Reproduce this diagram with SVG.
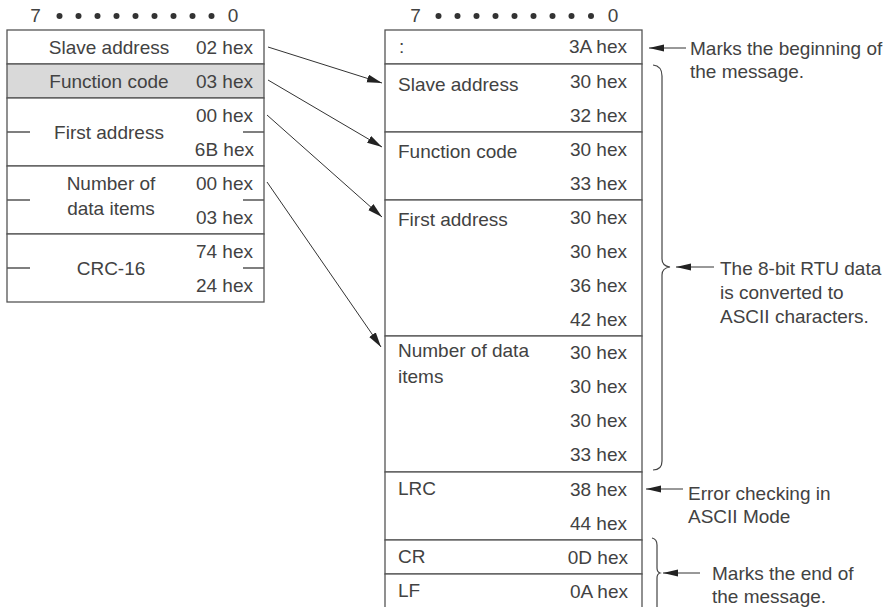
<svg xmlns="http://www.w3.org/2000/svg" width="888" height="607" viewBox="0 0 888 607">
<defs>
<style>
text{font-family:"Liberation Sans",Arial,sans-serif;font-size:19px;fill:#424242}
.e{text-anchor:end}
.m{text-anchor:middle}
.box{fill:#fff;stroke:#555;stroke-width:1.3}
.gray{fill:#d9d9d9;stroke:#555;stroke-width:1.3}
.ln{stroke:#555;stroke-width:1.3;fill:none}
.con{stroke:#333;stroke-width:1;fill:none}
.dot{fill:#333}
.br{stroke:#444;stroke-width:1.2;fill:none}
</style>
<marker id="ah" markerUnits="userSpaceOnUse" markerWidth="16" markerHeight="10" refX="15" refY="4" orient="auto">
<path d="M0,0 L15,4 L0,8 Z" fill="#222"/>
</marker>
<marker id="ah2" markerUnits="userSpaceOnUse" markerWidth="16" markerHeight="8" refX="15" refY="3.5" orient="auto">
<path d="M0,0 L15,3.5 L0,7 Z" fill="#222"/>
</marker>
</defs>
<rect width="888" height="607" fill="#fff"/>

<g id="header-left">
<text class="m" x="35.5" y="22">7</text>
<circle class="dot" cx="59.5" cy="16" r="3"/><circle class="dot" cx="78.5" cy="16" r="3"/><circle class="dot" cx="97.5" cy="16" r="3"/><circle class="dot" cx="116.5" cy="16" r="3"/><circle class="dot" cx="135.5" cy="16" r="3"/><circle class="dot" cx="154.5" cy="16" r="3"/><circle class="dot" cx="173.5" cy="16" r="3"/><circle class="dot" cx="192.5" cy="16" r="3"/><circle class="dot" cx="211.5" cy="16" r="3"/>
<text class="m" x="233" y="22">0</text>
</g>
<g id="header-right">
<text class="m" x="415.5" y="22">7</text>
<circle class="dot" cx="438.5" cy="16" r="3"/><circle class="dot" cx="457.5" cy="16" r="3"/><circle class="dot" cx="476.5" cy="16" r="3"/><circle class="dot" cx="495.5" cy="16" r="3"/><circle class="dot" cx="514.5" cy="16" r="3"/><circle class="dot" cx="533.5" cy="16" r="3"/><circle class="dot" cx="552.5" cy="16" r="3"/><circle class="dot" cx="571.5" cy="16" r="3"/><circle class="dot" cx="591" cy="16" r="3"/>
<text class="m" x="613" y="22">0</text>
</g>

<!-- Left table (RTU) -->
<g id="rtu-slave">
<rect class="box" x="7" y="30" width="257" height="34"/>
<text class="m" x="109" y="54">Slave address</text>
<text class="e" x="253" y="54">02 hex</text>
</g>
<g id="rtu-function">
<rect class="gray" x="7" y="64" width="257" height="34"/>
<text class="m" x="109" y="88">Function code</text>
<text class="e" x="253" y="88">03 hex</text>
</g>
<g id="rtu-first">
<rect class="box" x="7" y="98" width="257" height="68"/>
<path class="ln" d="M7,132 H30 M243,132 H264"/>
<text class="m" x="109" y="139">First address</text>
<text class="e" x="253" y="122">00 hex</text>
<text class="e" x="254" y="156">6B hex</text>
</g>
<g id="rtu-number">
<rect class="box" x="7" y="166" width="257" height="68"/>
<path class="ln" d="M7,200 H30 M243,200 H264"/>
<text class="m" x="111" y="190">Number of</text>
<text class="m" x="111" y="215">data items</text>
<text class="e" x="253" y="190">00 hex</text>
<text class="e" x="253" y="224">03 hex</text>
</g>
<g id="rtu-crc">
<rect class="box" x="7" y="234" width="257" height="68"/>
<path class="ln" d="M7,268 H30 M243,268 H264"/>
<text class="m" x="111" y="275">CRC-16</text>
<text class="e" x="253" y="258">74 hex</text>
<text class="e" x="253" y="292">24 hex</text>
</g>

<!-- Right table (ASCII) -->
<g id="ascii-colon">
<rect class="box" x="385" y="30" width="257" height="34"/>
<text x="399" y="53">:</text>
<text class="e" x="627" y="53">3A hex</text>
</g>
<g id="ascii-slave">
<rect class="box" x="385" y="64" width="257" height="68"/>
<text x="398" y="91">Slave address</text>
<text class="e" x="627" y="88">30 hex</text>
<text class="e" x="627" y="122">32 hex</text>
</g>
<g id="ascii-function">
<rect class="box" x="385" y="132" width="257" height="68"/>
<text x="398" y="158">Function code</text>
<text class="e" x="627" y="156">30 hex</text>
<text class="e" x="627" y="190">33 hex</text>
</g>
<g id="ascii-first">
<rect class="box" x="385" y="200" width="257" height="136"/>
<text x="398" y="226">First address</text>
<text class="e" x="627" y="224">30 hex</text>
<text class="e" x="627" y="258">30 hex</text>
<text class="e" x="627" y="292">36 hex</text>
<text class="e" x="627" y="326">42 hex</text>
</g>
<g id="ascii-number">
<rect class="box" x="385" y="336" width="257" height="136"/>
<text x="398" y="357">Number of data</text>
<text x="398" y="383">items</text>
<text class="e" x="627" y="359">30 hex</text>
<text class="e" x="627" y="393">30 hex</text>
<text class="e" x="627" y="427">30 hex</text>
<text class="e" x="627" y="461">33 hex</text>
</g>
<g id="ascii-lrc">
<rect class="box" x="385" y="472" width="257" height="68"/>
<text x="398" y="495">LRC</text>
<text class="e" x="627" y="496">38 hex</text>
<text class="e" x="627" y="530">44 hex</text>
</g>
<g id="ascii-cr">
<rect class="box" x="385" y="540" width="257" height="34"/>
<text x="398" y="563">CR</text>
<text class="e" x="628" y="564">0D hex</text>
</g>
<g id="ascii-lf">
<rect class="box" x="385" y="574" width="257" height="40"/>
<text x="398" y="597">LF</text>
<text class="e" x="628" y="598">0A hex</text>
</g>

<!-- Annotations -->
<g id="note-begin">
<text x="690" y="55">Marks the beginning of</text>
<text x="690" y="78">the message.</text>
</g>
<g id="note-rtu">
<path class="br" d="M653,65 Q662,66 662,76 L662,259 Q662,266 670,267 Q662,268 662,275 L662,461 Q662,470 653,470"/>
<text x="720" y="275">The 8-bit RTU data</text>
<text x="720" y="299">is converted to</text>
<text x="720" y="323">ASCII characters.</text>
</g>
<g id="note-error">
<text x="688" y="500">Error checking in</text>
<text x="688" y="523">ASCII Mode</text>
</g>
<g id="note-end">
<path class="br" d="M652,538 Q657,539 657,545 L657,568 Q657,572 660,573 Q657,574 657,578 L657,610"/>
<text x="712" y="580">Marks the end of</text>
<text x="712" y="603">the message.</text>
</g>

<g id="connectors">
<path class="con" d="M268,47 L382,83" marker-end="url(#ah)"/>
<path class="con" d="M268,80 L382,147" marker-end="url(#ah)"/>
<path class="con" d="M267,115 L382,217" marker-end="url(#ah)"/>
<path class="con" d="M267,182 L381,347" marker-end="url(#ah)"/>
<path class="con" d="M686,48 L649,48" marker-end="url(#ah2)"/>
<path class="con" d="M714,267 L676,267" marker-end="url(#ah2)"/>
<path class="con" d="M683,489 L646,489" marker-end="url(#ah2)"/>
<path class="con" d="M700,573 L663,573" marker-end="url(#ah2)"/>
</g>
</svg>
